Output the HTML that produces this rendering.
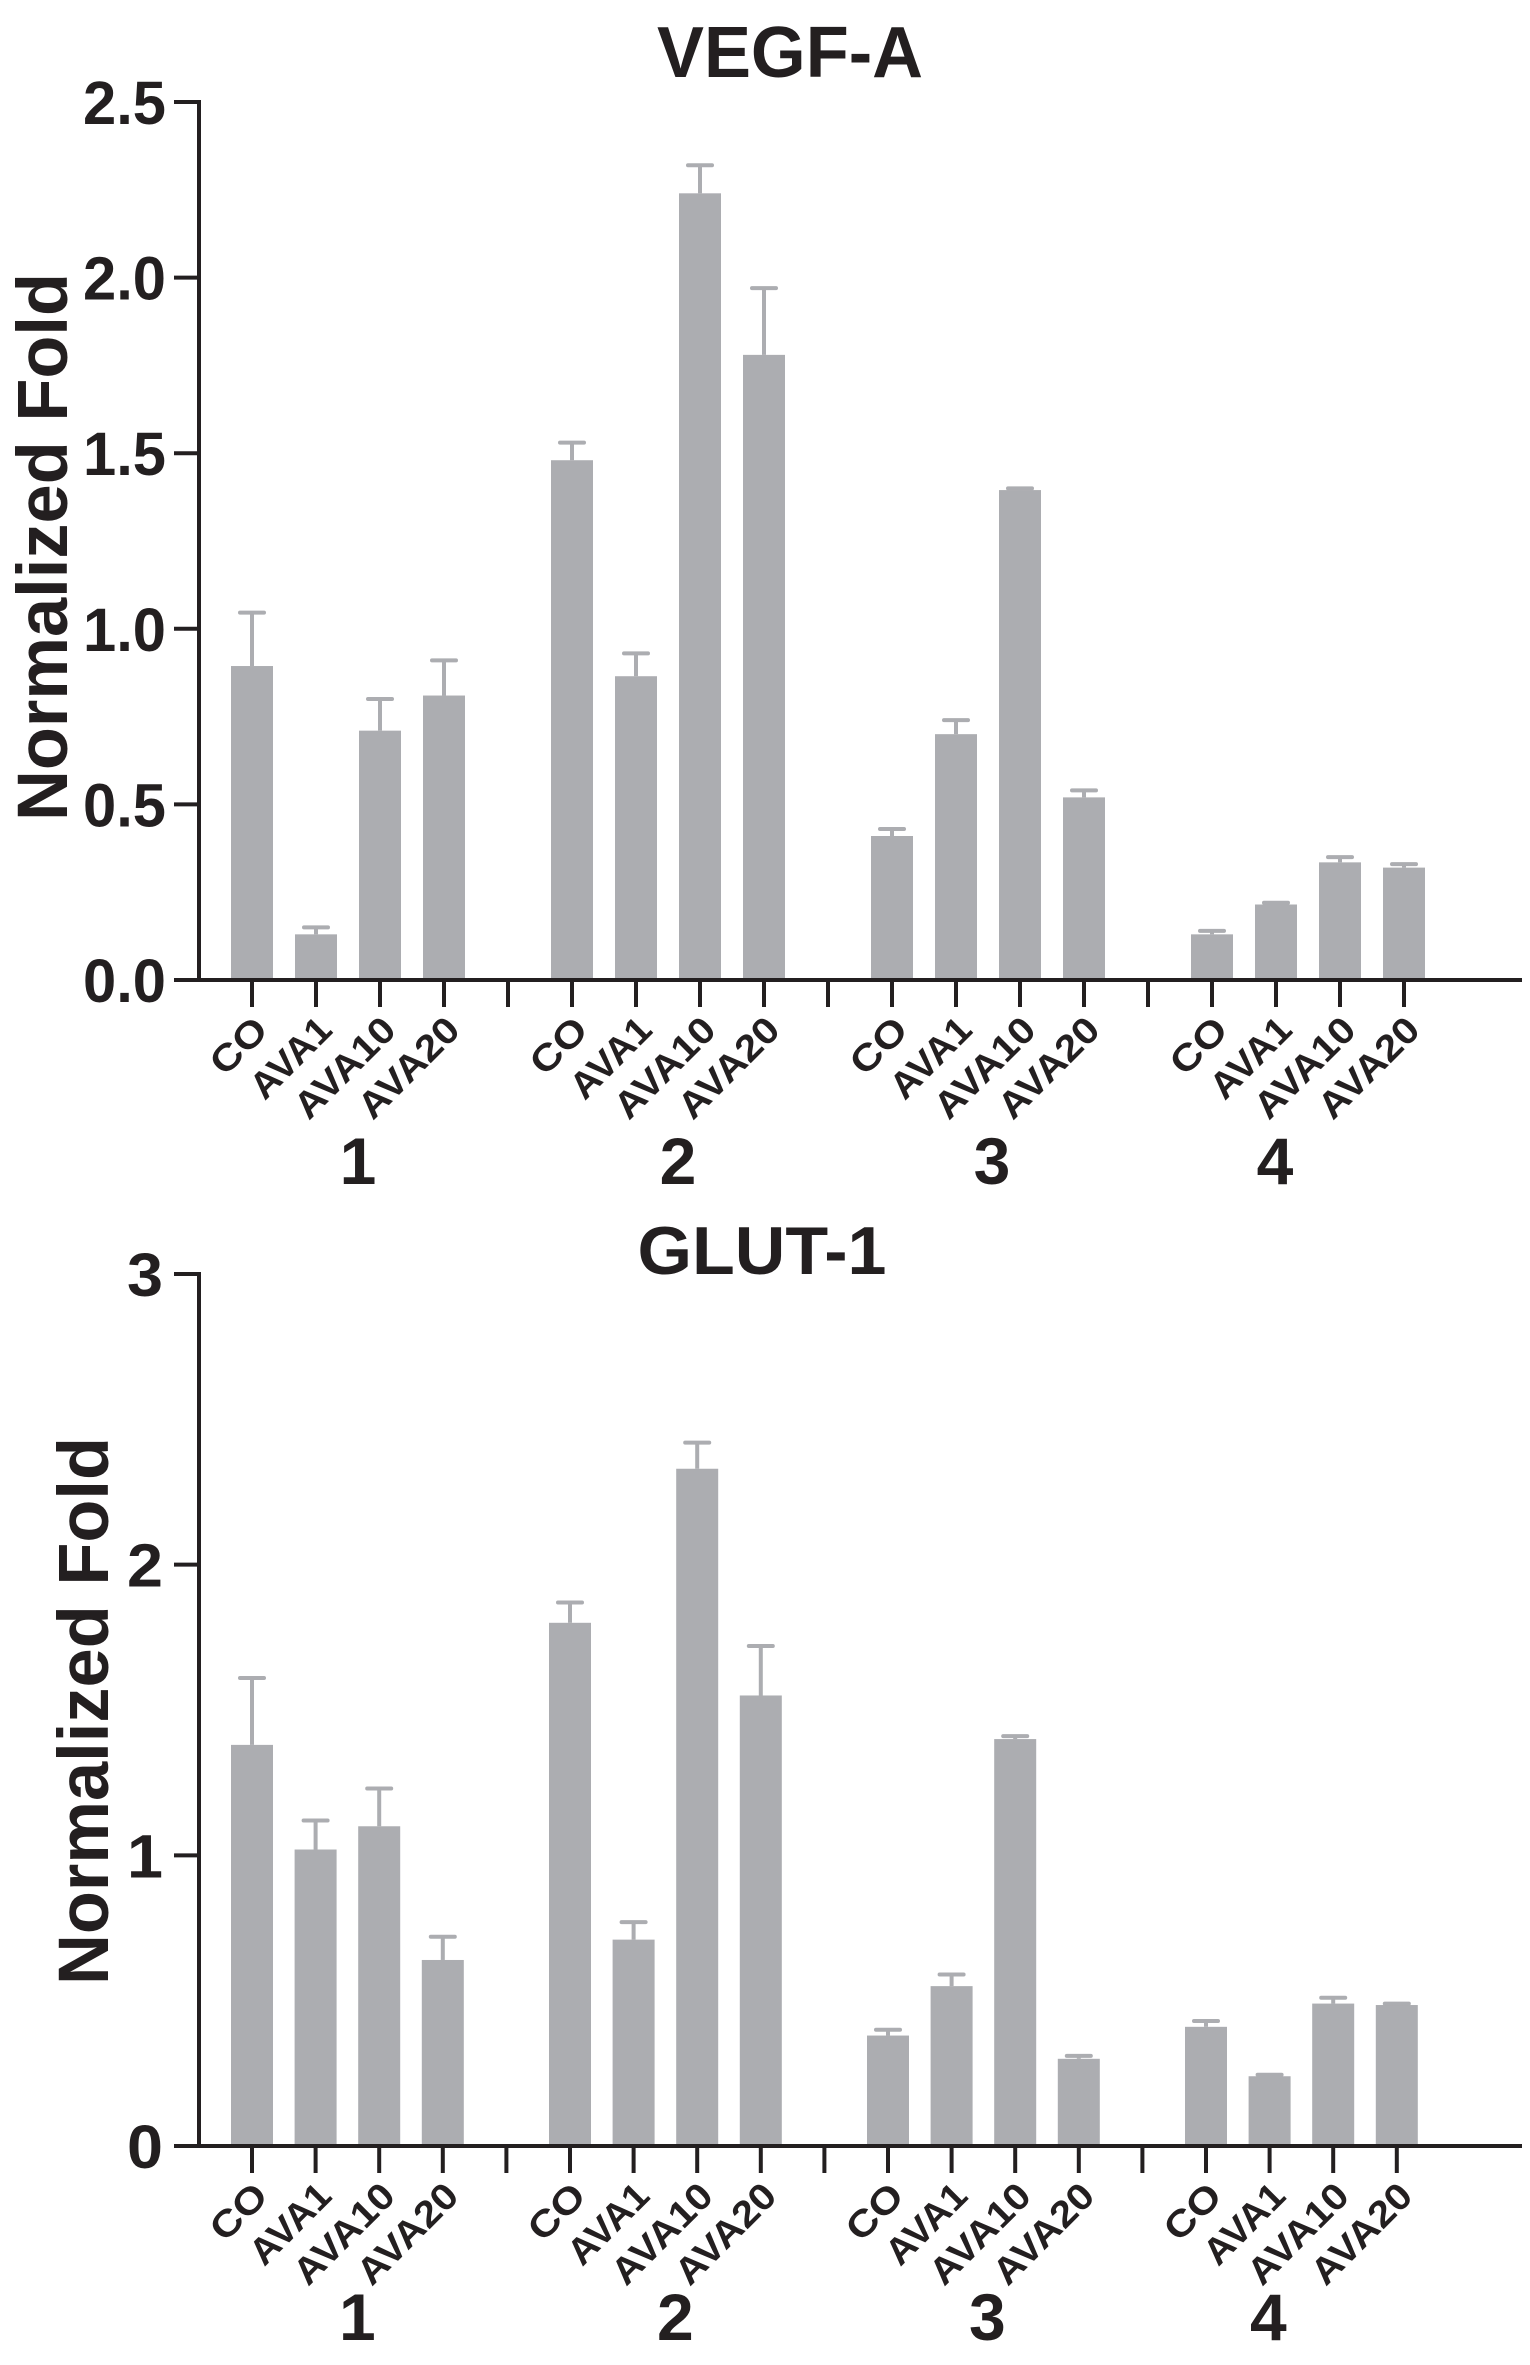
<!DOCTYPE html>
<html><head><meta charset="utf-8"><style>
html,body{margin:0;padding:0;background:#fff}
svg{display:block}
text{font-family:"Liberation Sans",Arial,sans-serif;font-weight:bold;fill:#231f20}
</style></head><body>
<svg id="chart" width="1530" height="2365" viewBox="0 0 1530 2365" xmlns="http://www.w3.org/2000/svg"></svg>
<script>
const categories = ["CO","AVA1","AVA10","AVA20"];
const groups = ["1","2","3","4"];
const vegfValues = [0.894,0.13,0.71,0.81, 1.48,0.865,2.24,1.78, 0.41,0.70,1.395,0.52, 0.13,0.215,0.335,0.32];
const vegfErrors = [1.046,0.15,0.80,0.91, 1.53,0.93,2.32,1.97, 0.43,0.74,1.40,0.54, 0.14,0.22,0.35,0.33];
const vegfTicks = ["0.0","0.5","1.0","1.5","2.0","2.5"];
const glutValues = [1.38,1.02,1.10,0.64, 1.80,0.71,2.33,1.55, 0.38,0.55,1.40,0.30, 0.41,0.24,0.49,0.485];
const glutErrors = [1.61,1.12,1.23,0.72, 1.87,0.77,2.42,1.72, 0.40,0.59,1.41,0.31, 0.43,0.245,0.51,0.49];
const glutTicks = ["0","1","2","3"];

const svg = document.getElementById('chart');
const NS = 'http://www.w3.org/2000/svg';
function mk(tag, attrs){const e=document.createElementNS(NS,tag);for(const k in attrs)e.setAttribute(k,attrs[k]);svg.appendChild(e);return e;}
const groupLabelOffsets = [10, 10, 4, -33];

function drawPanel(p){
  const yScale = v => p.y0 - (v / p.max) * (p.y0 - p.yTop);
  const xSlot = i => p.x0 + i * p.step;
  const t = mk('text',{x:p.titleX,y:p.titleY,'text-anchor':'middle','font-size':p.titleSize,textLength:p.titleLen,lengthAdjust:'spacingAndGlyphs'});
  t.textContent = p.title;
  
  
  p.values.forEach((v,i)=>{
    const g = Math.floor(i/4), c = i%4;
    const cx = xSlot(g*5+c);
    const r = mk('rect',{x:cx-21,y:yScale(v),width:42,height:p.y0-yScale(v),fill:'#acadb1'});
    
    
    const ey = yScale(p.errors[i]);
    const e1 = mk('line',{x1:cx,x2:cx,y1:yScale(v),y2:ey,stroke:'#acadb1','stroke-width':4});
    
    
    const e2 = mk('line',{x1:cx-12,x2:cx+12,y1:ey,y2:ey,stroke:'#acadb1','stroke-width':4,'stroke-linecap':'round'});
    
    
  });
  const ya = mk('line',{x1:199,x2:199,y1:p.yTop-2,y2:p.y0+2,stroke:'#231f20','stroke-width':4});
  
  
  const xa = mk('line',{x1:197,x2:1522,y1:p.y0,y2:p.y0,stroke:'#231f20','stroke-width':4});
  
  
  p.ticks.forEach((lab,i)=>{
    const v = i * p.max/(p.ticks.length-1);
    const y = yScale(v);
    const tl = mk('line',{x1:174,x2:199,y1:y,y2:y,stroke:'#231f20','stroke-width':4});
    
    
    const tx = mk('text',{x:p.tickRight,y:y+22,'text-anchor':'end','font-size':61,textLength:lab.length>1?83:36,lengthAdjust:'spacingAndGlyphs'});
    tx.textContent = lab;
    
    
  });
  for(let s=0;s<19;s++){
    const x = xSlot(s);
    const tk = mk('line',{x1:x,x2:x,y1:p.y0,y2:p.y0+27,stroke:'#231f20','stroke-width':4});
    
    
  }
  const lens = [64,98,126,126];
  groups.forEach((gl,g)=>{
    categories.forEach((c,ci)=>{
      const x = xSlot(g*5+ci)+18, y = p.y0+52;
      const tx = mk('text',{x:x,y:y,'text-anchor':'end','font-size':37,textLength:lens[ci],lengthAdjust:'spacingAndGlyphs',transform:`rotate(-45 ${x} ${y})`});
      tx.textContent = c;
      
      
    });
    const gx = (xSlot(g*5+1)+xSlot(g*5+2))/2 + groupLabelOffsets[g];
    const gt = mk('text',{x:gx,y:p.groupY,'text-anchor':'middle','font-size':66});
    gt.textContent = gl;
    
    
  });
  const yt = mk('text',{x:0,y:0,'text-anchor':'middle','font-size':71,transform:`translate(${p.ytX} ${p.ytY}) rotate(-90)`,textLength:548,lengthAdjust:'spacingAndGlyphs'});
  yt.textContent = 'Normalized Fold';
  
  
}

drawPanel({key:'vegf',title:'VEGF-A',titleX:790,titleY:77,titleSize:72,titleLen:266,
  values:vegfValues,errors:vegfErrors,ticks:vegfTicks,max:2.5,y0:980,yTop:102,
  x0:252,step:64,tickRight:166,groupY:1184,ytX:67,ytY:547});
drawPanel({key:'glut',title:'GLUT-1',titleX:762,titleY:1274,titleSize:68,titleLen:249,
  values:glutValues,errors:glutErrors,ticks:glutTicks,max:3,y0:2146,yTop:1274,
  x0:252,step:63.6,tickRight:163,groupY:2340,ytX:108,ytY:1711});
</script>
</body></html>
